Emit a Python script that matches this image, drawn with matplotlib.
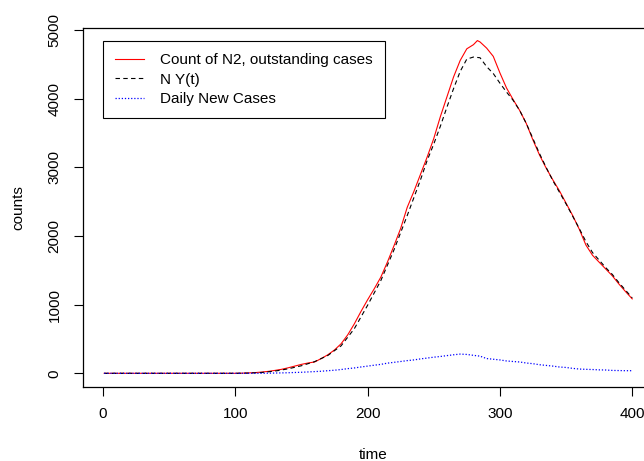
import matplotlib
matplotlib.use("Agg")
import matplotlib.pyplot as plt

plt.rcParams['font.family'] = ['Liberation Sans', 'DejaVu Sans']

# outstanding cases (red), read every 5 days
t_red = [1, 100, 105, 110, 115, 120, 125, 130, 135, 140, 145, 150, 155, 160, 165, 170,
         175, 180, 185, 190, 195, 200, 205, 210, 215, 220, 225, 230, 235, 240, 245,
         250, 255, 260, 265, 270, 275, 280, 283, 285, 290, 295, 300, 305, 310, 315,
         320, 325, 330, 335, 340, 345, 350, 355, 360, 365, 370, 375, 380, 385, 390,
         395, 400]
n2 = [0, 0, 2, 6, 10, 18, 28, 42, 58, 80, 105, 130, 150, 165, 215, 270,
      340, 430, 560, 720, 900, 1070, 1230, 1400, 1620, 1860, 2110, 2420, 2650, 2900, 3150,
      3420, 3740, 4030, 4320, 4560, 4730, 4790, 4850, 4830, 4740, 4620, 4380, 4160, 3990, 3830,
      3640, 3400, 3180, 2990, 2820, 2660, 2480, 2300, 2100, 1870, 1720, 1620, 1520, 1420, 1300,
      1190, 1085]

# N Y(t) (black dashed)
t_ny = [1, 100, 110, 120, 130, 140, 150, 160, 170, 180, 190, 200, 210, 220, 230, 240,
        245, 250, 255, 260, 265, 270, 275, 280, 285, 290, 295, 300, 305, 310, 315,
        320, 325, 330, 335, 340, 345, 350, 355, 360, 365, 370, 375, 380, 385, 390,
        395, 400]
ny = [0, 0, 3, 12, 32, 65, 110, 170, 260, 400, 650, 990, 1350, 1800, 2300, 2820,
      3100, 3340, 3600, 3880, 4150, 4400, 4580, 4610, 4600, 4470, 4370, 4230, 4100, 3980, 3830,
      3640, 3420, 3200, 3000, 2810, 2640, 2470, 2290, 2110, 1920, 1760, 1650, 1540, 1440, 1320,
      1210, 1100]

# daily new cases (blue dotted)
t_new = [1, 120, 125, 130, 135, 140, 145, 150, 155, 160, 165, 170, 175, 180, 185, 190,
         195, 200, 205, 210, 215, 220, 225, 230, 235, 240, 245, 250, 255, 260, 265,
         270, 275, 280, 285, 290, 295, 300, 305, 310, 315, 320, 325, 330, 335, 340,
         345, 350, 355, 360, 365, 370, 375, 380, 385, 390, 395, 400]
new = [0, 0, 2, 4, 6, 8, 12, 15, 20, 25, 30, 38, 45, 55, 68, 78,
       92, 105, 118, 130, 148, 160, 172, 185, 195, 210, 222, 235, 245, 258, 270,
       280, 275, 262, 250, 215, 205, 195, 180, 172, 165, 150, 140, 125, 115, 105,
       92, 85, 72, 62, 58, 55, 50, 48, 42, 40, 38, 38]

fig = plt.figure(figsize=(6.44, 4.61), dpi=100)
ax = fig.add_axes([83 / 644, 73.7 / 461, 570.4 / 644, 359 / 461])

ax.plot(t_red, n2, color='red', lw=0.8, label='Count of N2, outstanding cases')
ax.plot(t_ny, ny, color='black', lw=0.8, ls=(0, (4, 3)), label='N Y(t)')
ax.plot(t_new, new, color='blue', lw=0.9, ls=(0, (1, 1.5)), label='Daily New Cases')

ax.set_xlim(-15, 416)
ax.set_ylim(-204, 5029)
ax.set_xticks([0, 100, 200, 300, 400])
ax.set_yticks([0, 1000, 2000, 3000, 4000, 5000])
ax.tick_params(length=6.5, width=0.8, labelsize=11, direction='out')
ax.tick_params(axis='x', pad=8)
ax.tick_params(axis='y', pad=9, labelrotation=90)
for lab in ax.get_yticklabels():
    lab.set_va('center')
for s in ax.spines.values():
    s.set_linewidth(0.9)

fig.text(373 / 644, 1 - 455 / 461, 'time', ha='center', va='center', fontsize=11)
fig.text(18 / 644, 1 - 208 / 461, 'counts', ha='center', va='center', fontsize=11, rotation=90)

leg = ax.legend(loc='upper left', bbox_to_anchor=(102.7 / 644, 1 - 41 / 461),
                bbox_transform=fig.transFigure, fontsize=11, fancybox=False,
                edgecolor='black', framealpha=1, borderaxespad=0, borderpad=0.8,
                handlelength=1.9, handletextpad=1.03, labelspacing=0.35)
leg.get_frame().set_linewidth(0.8)

fig.savefig('out.png', dpi=100)
